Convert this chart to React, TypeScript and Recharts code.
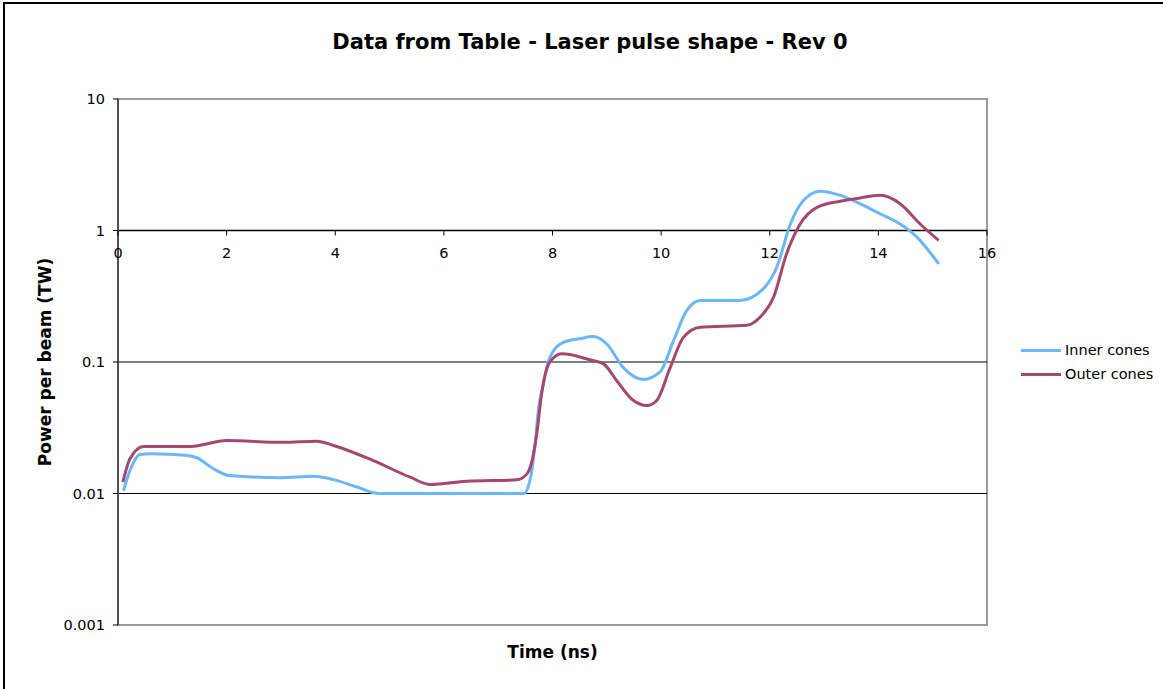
import React from "react";
import {
  Label,
  Legend,
  Line,
  LineChart,
  ReferenceArea,
  ReferenceDot,
  ReferenceLine,
  XAxis,
  YAxis,
} from "recharts";

// times (ns) and power per beam (TW)
const INNER_T = [
  0.1, 0.25, 0.4, 0.6, 1.25, 1.45, 1.75, 2.05, 3.0, 3.6, 3.95, 4.4, 4.8, 7.47, 7.6, 7.68, 7.74,
  7.83, 7.92, 8.02, 8.2, 8.5, 8.75, 9.0, 9.3, 9.67, 9.98, 10.23, 10.47, 10.72, 11.45, 11.88,
  12.13, 12.38, 12.62, 12.93, 13.3, 13.66, 14.03, 14.4, 14.71, 15.11,
];
const INNER_P = [
  0.0105, 0.016, 0.0198, 0.0201, 0.0195, 0.0187, 0.0155, 0.0137, 0.0132, 0.0135, 0.0128, 0.0112,
  0.01, 0.01, 0.0135, 0.024, 0.043, 0.068, 0.1, 0.122, 0.141, 0.15, 0.156, 0.137, 0.091, 0.0736,
  0.084, 0.146, 0.246, 0.294, 0.294, 0.36, 0.526, 1.12, 1.69, 1.99, 1.85, 1.6, 1.34, 1.12, 0.89,
  0.558,
];
const OUTER_T = [
  0.09, 0.22, 0.47, 1.33, 2.0, 3.04, 3.66, 3.97, 4.7, 5.38, 5.75, 6.42, 7.34, 7.53, 7.65, 7.71,
  7.8, 7.95, 8.17, 8.69, 8.94, 9.18, 9.49, 9.74, 9.92, 10.17, 10.41, 10.72, 11.58, 11.82, 12.07,
  12.31, 12.56, 12.87, 13.3, 13.66, 14.03, 14.4, 14.77, 15.11,
];
const OUTER_P = [
  0.0122, 0.0184, 0.0228, 0.0228, 0.0253, 0.0245, 0.025, 0.0232, 0.0178, 0.0133, 0.0117, 0.0124,
  0.0127, 0.0141, 0.02, 0.0284, 0.0573, 0.0996, 0.1154, 0.104, 0.0968, 0.0723, 0.051, 0.0467,
  0.051, 0.0913, 0.154, 0.184, 0.19, 0.219, 0.311, 0.665, 1.12, 1.5, 1.67, 1.77, 1.85, 1.6, 1.12,
  0.84,
];
const X_TICKS = [0, 2, 4, 6, 8, 10, 12, 14, 16];
const Y_TICKS = [0.001, 0.01, 0.1, 1, 10];
const SERIES = [
  { name: "Inner cones", color: "#6cb6fc" },
  { name: "Outer cones", color: "#a6476f" },
];

const inner = INNER_T.map((t, i) => ({ t, p: INNER_P[i] }));
const outer = OUTER_T.map((t, i) => ({ t, p: OUTER_P[i] }));

const FONT = "'DejaVu Sans', Verdana, sans-serif";

// x axis crosses the y axis at 1, so its ticks sit on that line
function XTickAtOne(props: any) {
  const { cx, cy, value } = props;
  return (
    <g>
      <line x1={cx} y1={cy} x2={cx} y2={cy + 5} stroke="#000" strokeWidth={1} />
      <text x={cx} y={cy + 27} textAnchor="middle" fontSize={14.5} fontFamily={FONT} fill="#000">
        {value}
      </text>
    </g>
  );
}

function LegendBox() {
  return (
    <div style={{ fontFamily: FONT, fontSize: 14.5, color: "#000" }}>
      {SERIES.map((s) => (
        <div key={s.name} style={{ display: "flex", alignItems: "center", height: 24 }}>
          <span
            style={{ display: "inline-block", width: 40, height: 3, background: s.color, marginRight: 4 }}
          />
          <span>{s.name}</span>
        </div>
      ))}
    </div>
  );
}

export default function App() {
  return (
    <div
      style={{
        position: "absolute",
        left: 0,
        top: 0,
        width: 1163,
        height: 689,
        overflow: "hidden",
        background: "#fff",
      }}
    >
      <div
        style={{
          position: "absolute",
          left: 3,
          top: 2,
          width: 1220,
          height: 740,
          border: "2px solid #000",
        }}
      />
      <div
        style={{
          position: "absolute",
          left: 0,
          top: 30,
          width: 1180,
          textAlign: "center",
          fontFamily: FONT,
          fontWeight: "bold",
          fontSize: 21,
          lineHeight: "24px",
          color: "#000",
        }}
      >
        Data from Table - Laser pulse shape - Rev 0
      </div>
      <LineChart
        width={1163}
        height={689}
        // the legend box reserves its own 140px on the right
        margin={{ top: 99, right: 36, bottom: 0, left: 18 }}
        style={{ position: "absolute", left: 0, top: 0 }}
      >
        <XAxis
          type="number"
          dataKey="t"
          domain={[0, 16]}
          ticks={X_TICKS}
          tick={false}
          tickLine={false}
          axisLine={false}
          height={64}
        >
          <Label
            content={({ viewBox }: any) => (
              <text
                x={viewBox.x + viewBox.width / 2}
                y={viewBox.y + 33}
                textAnchor="middle"
                fontFamily={FONT}
                fontWeight="bold"
                fontSize={17}
                fill="#000"
              >
                Time (ns)
              </text>
            )}
          />
        </XAxis>
        <YAxis
          scale="log"
          domain={[0.001, 10]}
          ticks={Y_TICKS}
          allowDataOverflow
          width={100}
          axisLine={{ stroke: "#505050", strokeWidth: 2 }}
          tickLine={{ stroke: "#000" }}
          tickSize={5}
          tickMargin={8}
          tick={{ fontSize: 14.5, fontFamily: FONT, fill: "#000" }}
        >
          <Label
            content={({ viewBox }: any) => {
              const x = viewBox.x + 27;
              const y = viewBox.y + viewBox.height / 2;
              return (
                <text
                  x={x}
                  y={y}
                  transform={`rotate(-90 ${x} ${y})`}
                  textAnchor="middle"
                  dominantBaseline="central"
                  fontFamily={FONT}
                  fontWeight="bold"
                  fontSize={17}
                  fill="#000"
                >
                  Power per beam (TW)
                </text>
              );
            }}
          />
        </YAxis>
        <ReferenceArea
          x1={0}
          x2={16}
          y1={0.001}
          y2={10}
          fill="none"
          stroke="#999"
          strokeWidth={2}
        />
        <ReferenceLine y={0.01} stroke="#000" strokeWidth={1} />
        <ReferenceLine y={0.1} stroke="#000" strokeWidth={1} />
        <ReferenceLine y={1} stroke="#000" strokeWidth={1.3} />
        {X_TICKS.map((t) => (
          <ReferenceDot
            key={t}
            x={t}
            y={1}
            r={0}
            ifOverflow="visible"
            shape={(p: any) => <XTickAtOne {...p} value={t} />}
          />
        ))}
        <Line
          data={inner}
          dataKey="p"
          name={SERIES[0].name}
          type="monotone"
          stroke={SERIES[0].color}
          strokeWidth={3}
          dot={false}
          isAnimationActive={false}
        />
        <Line
          data={outer}
          dataKey="p"
          name={SERIES[1].name}
          type="monotone"
          stroke={SERIES[1].color}
          strokeWidth={3}
          dot={false}
          isAnimationActive={false}
        />
        <Legend
          layout="horizontal"
          verticalAlign="middle"
          align="right"
          wrapperStyle={{ left: 1021, top: 338, width: 140 }}
          content={() => <LegendBox />}
        />
      </LineChart>
    </div>
  );
}
